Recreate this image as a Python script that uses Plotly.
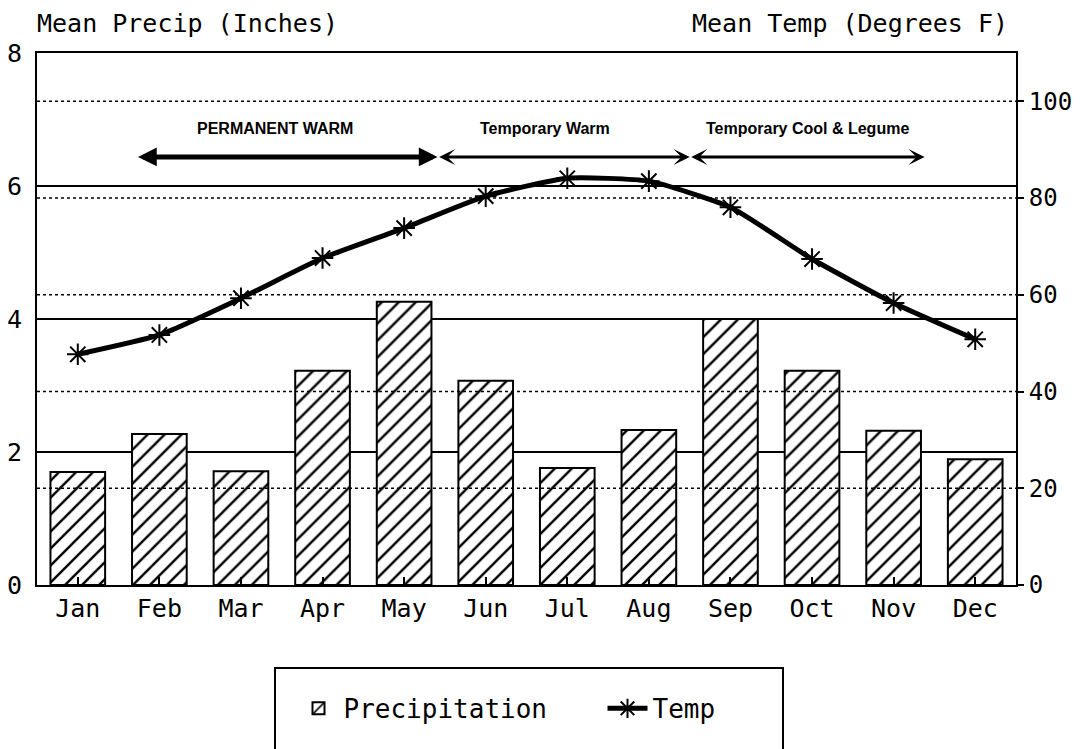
import plotly.graph_objects as go

months = ["Jan", "Feb", "Mar", "Apr", "May", "Jun", "Jul", "Aug", "Sep", "Oct", "Nov", "Dec"]
precip = [1.70, 2.27, 1.71, 3.22, 4.26, 3.07, 1.76, 2.33, 4.00, 3.22, 2.32, 1.89]
temp = [47.7, 51.7, 59.3, 67.6, 73.8, 80.4, 84.1, 83.5, 78.1, 67.4, 58.3, 50.8]

left_ticks = [0, 2, 4, 6, 8]
right_ticks = [0, 20, 40, 60, 80, 100]

# Season arrows: (label, start index, end index)
seasons = [
    ("PERMANENT WARM", 0.72, 4.41),
    ("Temporary Warm", 4.41, 7.50),
    ("Temporary Cool & Legume", 7.50, 10.38),
]
season_label_x = [2.42, 5.73, 8.95]
arrow_level = 88.5
label_level = 94.4

MONO = "DejaVu Sans Mono"
SANS = "Liberation Sans"

fig = go.Figure()

fig.add_trace(go.Bar(
    x=months, y=precip, name="Precipitation", width=0.67,
    marker=dict(color="white", line=dict(color="black", width=2),
                pattern=dict(shape="/", fgcolor="black", bgcolor="white", fgopacity=1,
                             size=12, solidity=0.2)),
    yaxis="y",
))

fig.add_trace(go.Scatter(
    x=months, y=temp, name="Temp", mode="lines+markers",
    line=dict(color="black", width=5, shape="spline", smoothing=0.5),
    marker=dict(symbol="asterisk-open", size=18, color="black", line=dict(color="black", width=2)),
    yaxis="y2",
))

# dotted gridlines of the right axis drawn above the bars
for v in right_ticks[1:]:
    fig.add_shape(type="line", xref="paper", yref="y2", x0=0, x1=1, y0=v, y1=v,
                  line=dict(color="black", width=1.5, dash="dot"), layer="above")

annotations = []
for i, (label, a, b) in enumerate(seasons):
    thick = i == 0
    annotations.append(dict(
        x=b, y=arrow_level, ax=a, ay=arrow_level, xref="x", yref="y2", axref="x", ayref="y2",
        text="", showarrow=True, arrowside="end+start",
        arrowhead=2 if thick else 3, arrowsize=0.75 if thick else 0.9,
        arrowwidth=5 if thick else 3, arrowcolor="black", standoff=0, startstandoff=0,
    ))
    annotations.append(dict(
        x=season_label_x[i], y=label_level, xref="x", yref="y2", text=label, showarrow=False,
        font=dict(family=SANS, size=16, color="black", weight="bold"),
        xanchor="center", yanchor="middle",
    ))

annotations.append(dict(x=-0.002, y=1.056, xref="paper", yref="paper", text="Mean Precip (Inches)",
                        showarrow=False, xanchor="left", yanchor="middle",
                        font=dict(family=MONO, size=25, color="black")))
annotations.append(dict(x=0.994, y=1.056, xref="paper", yref="paper", text="Mean Temp (Degrees F)",
                        showarrow=False, xanchor="right", yanchor="middle",
                        font=dict(family=MONO, size=25, color="black")))

# legend frame
fig.add_shape(type="rect", xref="paper", yref="paper", x0=0.2431, x1=0.762, y0=-0.35, y1=-0.156,
              line=dict(color="black", width=2), fillcolor="rgba(0,0,0,0)", layer="above")

# the page places the figure 8px from the top-left corner of the window
fig.update_layout(
    width=1072, height=741,
    margin=dict(l=29, r=64, t=45, b=164, autoexpand=False),
    paper_bgcolor="white", plot_bgcolor="white",
    font=dict(family=MONO, size=25, color="black"),
    annotations=annotations,
    showlegend=True,
    legend=dict(orientation="h", x=0.262, xanchor="left", y=-0.232, yanchor="middle",
                font=dict(family=MONO, size=26, color="black"), bgcolor="rgba(0,0,0,0)",
                borderwidth=0, entrywidth=254, itemwidth=40, traceorder="normal"),
    xaxis=dict(type="category", range=[-0.5, 11.5], showline=True, linecolor="black", linewidth=2,
               mirror=True, ticks="inside", ticklen=8, tickwidth=2, tickcolor="black",
               showgrid=False, automargin=False, tickfont=dict(family=MONO, size=25)),
    yaxis=dict(range=[0, 8], tickvals=left_ticks, showline=True, linecolor="black", linewidth=2,
               showgrid=True, gridcolor="black", gridwidth=1.5, zeroline=False, ticks="",
               automargin=False, ticklabelstandoff=8, tickfont=dict(family=MONO, size=25)),
    yaxis2=dict(range=[0, 110], tickvals=right_ticks, overlaying="y", side="right", showline=True,
                linecolor="black", linewidth=2, showgrid=False, zeroline=False, ticks="outside",
                ticklen=6, tickwidth=2, tickcolor="black", automargin=False,
                tickfont=dict(family=MONO, size=24)),
)

fig.write_html("out.html")
